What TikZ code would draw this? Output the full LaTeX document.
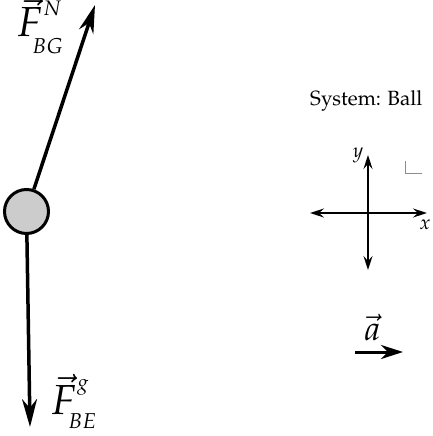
\documentclass[tikz,border=0pt]{standalone}
\usepackage[T1]{fontenc}
\usepackage{mathpazo}
\usepackage{graphicx}
\usetikzlibrary{arrows.meta}
\definecolor{ballgray}{RGB}{204,204,204}
\definecolor{markgray}{RGB}{140,140,140}
\begin{document}
\begin{tikzpicture}[x=1pt,y=-1pt,
  force/.style={line width=3.5pt,-{Stealth[length=28pt,width=15pt,inset=9pt]}},
  axis/.style={line width=1.9pt,{Stealth[length=14pt,width=9pt,inset=5pt]}-{Stealth[length=14pt,width=9pt,inset=5pt]}},
  accel/.style={line width=3pt,-{Stealth[length=22pt,width=14pt,inset=7pt]}},
  lbl/.style={inner sep=0pt,anchor=base west}]
\useasboundingbox (0,0) rectangle (433,436);
% ball
\node[circle,draw,line width=3pt,fill=ballgray,minimum size=44pt,inner sep=0pt] (ball) at (26.5,211.5) {};
\coordinate (tipN) at (95,5);
\coordinate (tipG) at (30,427);
\draw[force] (ball) -- (tipN);
\draw[force] (ball) -- (tipG);
% labels of forces
\node[lbl] (FN) at (17,37) {\scalebox{4.2}{$\vec{F}$}};
\node[lbl] (FNsup) at (43,15.5) {\scalebox{2.1}{$N$}};
\node[lbl] (FNsub) at (32,53) {\scalebox{2.15}{$BG$}};
\node[lbl] (FG) at (51,414) {\scalebox{4.2}{$\vec{F}$}};
\node[lbl] (FGsup) at (77,389) {\scalebox{2.1}{$g$}};
\node[lbl] (FGsub) at (68,428) {\scalebox{2.15}{$BE$}};
% system
\node[lbl] (sys) at (310,105) {\fontsize{20.6}{23}\selectfont System: Ball};
% axes
\coordinate (ytop) at (368,155);
\coordinate (ybot) at (368,270);
\coordinate (xl) at (310,213);
\coordinate (xr) at (427,213);
\draw[axis] (ybot) -- (ytop);
\draw[axis] (xl) -- (xr);
\node[inner sep=0pt] (ylab) at (358,155) {\scalebox{2}{$y$}};
\node[inner sep=0pt] (xlab) at (425,225) {\scalebox{2}{$x$}};
\draw[markgray,line width=1pt] (405,161) -- (405,173) -- (422,173);
% acceleration
\coordinate (a0) at (355,352);
\coordinate (a1) at (403,352);
\draw[accel] (a0) -- (a1);
\node[lbl] (alab) at (364,340) {\scalebox{3.4}{$\vec{a}$}};
\end{tikzpicture}
\end{document}
